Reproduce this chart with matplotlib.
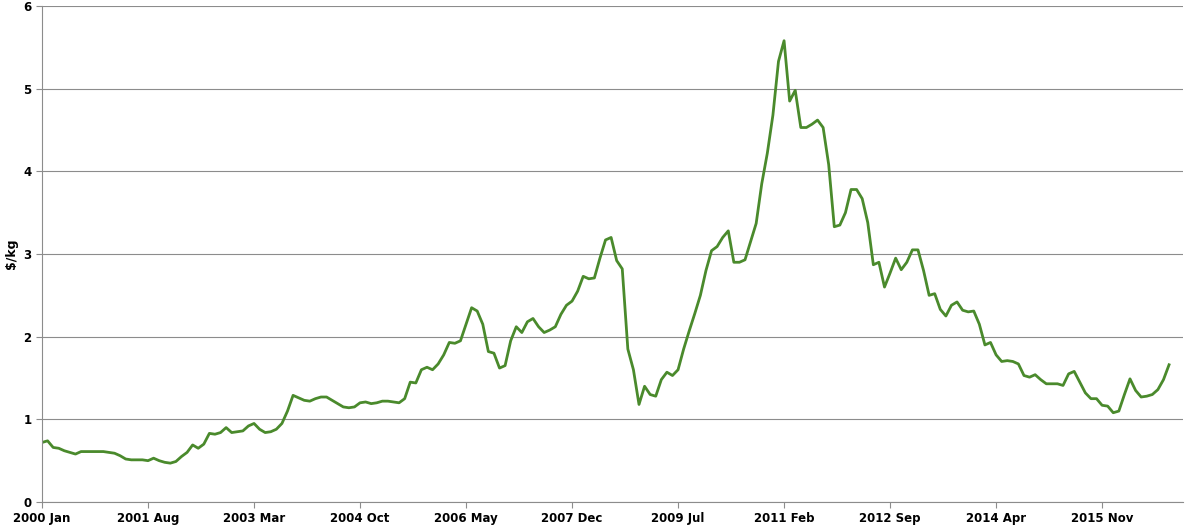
import matplotlib.pyplot as plt

# monthly prices, 2000 Jan onward ($/kg)
prices = [
    0.72, 0.74, 0.66, 0.65, 0.62, 0.60, 0.58, 0.61, 0.61, 0.61, 0.61, 0.61,
    0.60, 0.59, 0.56, 0.52, 0.51, 0.51, 0.51, 0.50, 0.53, 0.50, 0.48, 0.47,
    0.49, 0.55, 0.60, 0.69, 0.65, 0.70, 0.83, 0.82, 0.84, 0.90, 0.84, 0.85,
    0.86, 0.92, 0.95, 0.88, 0.84, 0.85, 0.88, 0.95, 1.10, 1.29, 1.26, 1.23,
    1.22, 1.25, 1.27, 1.27, 1.23, 1.19, 1.15, 1.14, 1.15, 1.20, 1.21, 1.19,
    1.20, 1.22, 1.22, 1.21, 1.20, 1.25, 1.45, 1.44, 1.60, 1.63, 1.60, 1.67,
    1.78, 1.93, 1.92, 1.95, 2.15, 2.35, 2.31, 2.15, 1.82, 1.80, 1.62, 1.65,
    1.95, 2.12, 2.05, 2.18, 2.22, 2.12, 2.05, 2.08, 2.12, 2.27, 2.38, 2.43,
    2.55, 2.73, 2.70, 2.71, 2.95, 3.17, 3.20, 2.92, 2.82, 1.85, 1.60, 1.18,
    1.40, 1.30, 1.28, 1.48, 1.57, 1.53, 1.60, 1.85, 2.07, 2.28, 2.50, 2.80,
    3.04, 3.09, 3.20, 3.28, 2.90, 2.90, 2.93, 3.15, 3.37, 3.85, 4.22, 4.68,
    5.33, 5.58, 4.85, 4.98, 4.53, 4.53, 4.57, 4.62, 4.53, 4.08, 3.33, 3.35,
    3.50, 3.78, 3.78, 3.67, 3.38, 2.87, 2.90, 2.60, 2.77, 2.95, 2.81, 2.90,
    3.05, 3.05, 2.80, 2.50, 2.52, 2.33, 2.25, 2.38, 2.42, 2.32, 2.30, 2.31,
    2.15, 1.90, 1.93, 1.78, 1.70, 1.71, 1.70, 1.67, 1.53, 1.51, 1.54, 1.48,
    1.43, 1.43, 1.43, 1.41, 1.55, 1.58, 1.45, 1.32, 1.25, 1.25, 1.17, 1.16,
    1.08, 1.10, 1.30, 1.49, 1.35, 1.27, 1.28, 1.30, 1.36, 1.48, 1.66,
]
tickLabels = ['2000 Jan', '2001 Aug', '2003 Mar', '2004 Oct', '2006 May', '2007 Dec',
              '2009 Jul', '2011 Feb', '2012 Sep', '2014 Apr', '2015 Nov']

fig = plt.figure(figsize=(11.93, 5.27), dpi=100)
ax = fig.add_axes([42 / 1193, 25 / 527, 1141 / 1193, 496 / 527])
ax.plot(range(len(prices)), prices, color='#4a8a2c', linewidth=2)

ax.set_xlim(0, 204.5)
ax.set_ylim(0, 6)
ax.set_xticks([19 * i for i in range(len(tickLabels))])
ax.set_xticklabels(tickLabels, fontsize=8.5, fontweight='bold')
ax.set_yticks(range(7))
ax.set_yticklabels([str(v) for v in range(7)], fontsize=8.5, fontweight='bold')
ax.set_ylabel(r'\$/kg', fontsize=9, fontweight='bold')
ax.yaxis.grid(True, color='#8c8c8c', linewidth=0.8)
ax.set_axisbelow(True)
for side in ['top', 'right']:
    ax.spines[side].set_visible(False)
for side in ['left', 'bottom']:
    ax.spines[side].set_color('#8c8c8c')
ax.tick_params(axis='both', length=4, color='#8c8c8c')

fig.savefig('out.png')
